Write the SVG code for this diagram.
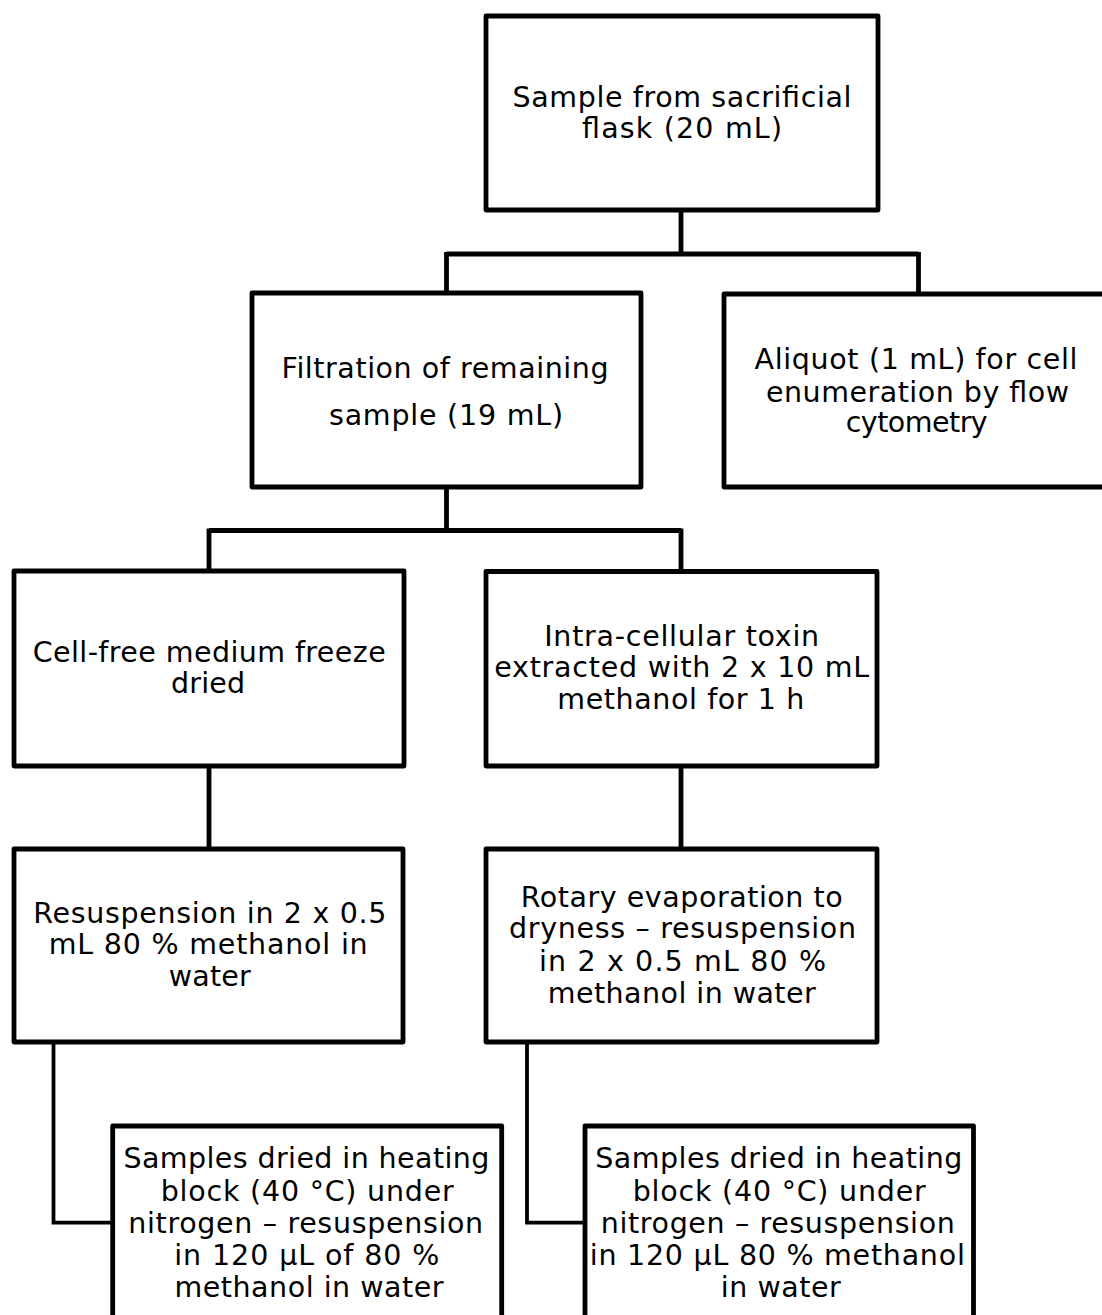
<svg xmlns="http://www.w3.org/2000/svg" width="1102" height="1315" viewBox="0 0 1102 1315">
<style>
.box{fill:#fff;stroke:#000;stroke-width:4.8;stroke-linejoin:round}
.con{fill:none;stroke:#000;stroke-width:4.8;stroke-linejoin:miter}
.thin{fill:none;stroke:#000;stroke-width:3.8}
text{font-family:"DejaVu Sans","Verdana",sans-serif;font-size:28.5px;fill:#000;text-anchor:middle}
</style>
<rect width="1102" height="1315" fill="#fff"/>
<g id="connectors">
<path class="con" d="M681,210 V254 M446.5,254 H918.5 M446.5,252 V293 M918.5,252 V294"/>
<path class="con" d="M446.5,487 V530.5 M209,530.5 H681 M209,528.5 V571 M681,528.5 V571.5"/>
<path class="con" d="M209,766 V849 M681,766 V849"/>
<path class="thin" d="M53.5,1042 V1222.7 H112.7 M527,1042 V1222.7 H585"/>
</g>
<g id="n1">
<rect class="box" x="486" y="16" width="392" height="194"/>
<text x="682" y="106.7" textLength="339" lengthAdjust="spacing">Sample from sacrificial</text>
<text x="682" y="138.3" textLength="200" lengthAdjust="spacing">flask (20 mL)</text>
</g>
<g id="n2">
<rect class="box" x="252" y="293" width="389" height="194"/>
<text x="445" y="378.3" textLength="327" lengthAdjust="spacing">Filtration of remaining</text>
<text x="446" y="425" textLength="234" lengthAdjust="spacing">sample (19 mL)</text>
</g>
<g id="n3">
<rect class="box" x="724" y="294" width="388" height="193"/>
<text x="916" y="369.3" textLength="323" lengthAdjust="spacing">Aliquot (1 mL) for cell</text>
<text x="917.5" y="401.7" textLength="303" lengthAdjust="spacing">enumeration by flow</text>
<text x="916.7" y="431.7" textLength="142" lengthAdjust="spacing">cytometry</text>
</g>
<g id="n4">
<rect class="box" x="14" y="571" width="390" height="195"/>
<text x="209.2" y="661.7" textLength="353" lengthAdjust="spacing">Cell-free medium freeze</text>
<text x="208" y="693.3" textLength="74" lengthAdjust="spacing">dried</text>
</g>
<g id="n5">
<rect class="box" x="486" y="571.5" width="391" height="194.5"/>
<text x="681.7" y="645.7" textLength="275" lengthAdjust="spacing">Intra-cellular toxin</text>
<text x="681.7" y="676.7" textLength="375" lengthAdjust="spacing">extracted with 2 x 10 mL</text>
<text x="680.8" y="709" textLength="247" lengthAdjust="spacing">methanol for 1 h</text>
</g>
<g id="n6">
<rect class="box" x="14" y="849" width="389" height="193"/>
<text x="209.8" y="922.7" textLength="353" lengthAdjust="spacing">Resuspension in 2 x 0.5</text>
<text x="208.2" y="954" textLength="319" lengthAdjust="spacing">mL 80 % methanol in</text>
<text x="209.8" y="986" textLength="82" lengthAdjust="spacing">water</text>
</g>
<g id="n7">
<rect class="box" x="486" y="849" width="391" height="193"/>
<text x="681.7" y="906.7" textLength="322" lengthAdjust="spacing">Rotary evaporation to</text>
<text x="682.5" y="938.3" textLength="347" lengthAdjust="spacing">dryness – resuspension</text>
<text x="682.5" y="970.5" textLength="287" lengthAdjust="spacing">in 2 x 0.5 mL 80 %</text>
<text x="681.7" y="1003" textLength="268" lengthAdjust="spacing">methanol in water</text>
</g>
<g id="n8">
<rect class="box" x="112.7" y="1126" width="389" height="220"/>
<text x="306.4" y="1168.3" textLength="366" lengthAdjust="spacing">Samples dried in heating</text>
<text x="307.2" y="1200.7" textLength="293" lengthAdjust="spacing">block (40 °C) under</text>
<text x="305.7" y="1232.7" textLength="355" lengthAdjust="spacing">nitrogen – resuspension</text>
<text x="306.8" y="1265" textLength="265" lengthAdjust="spacing">in 120 μL of 80 %</text>
<text x="309" y="1296.7" textLength="269" lengthAdjust="spacing">methanol in water</text>
</g>
<g id="n9">
<rect class="box" x="585" y="1126" width="388.5" height="220"/>
<text x="778.8" y="1168.3" textLength="367" lengthAdjust="spacing">Samples dried in heating</text>
<text x="779.2" y="1200.7" textLength="293" lengthAdjust="spacing">block (40 °C) under</text>
<text x="777.8" y="1232.7" textLength="354" lengthAdjust="spacing">nitrogen – resuspension</text>
<text x="777.3" y="1265" textLength="375" lengthAdjust="spacing">in 120 μL 80 % methanol</text>
<text x="780.8" y="1296.7" textLength="120" lengthAdjust="spacing">in water</text>
</g>
</svg>
